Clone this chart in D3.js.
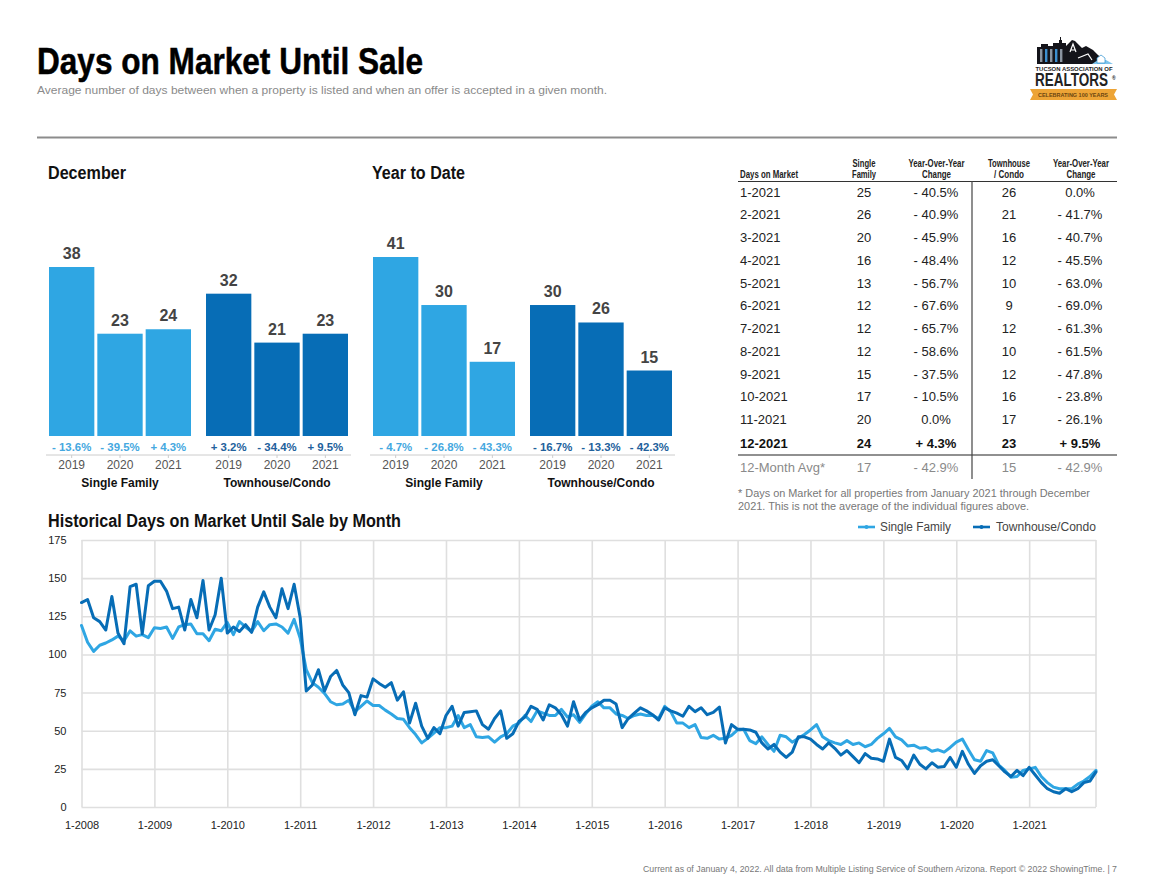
<!DOCTYPE html>
<html>
<head>
<meta charset="utf-8">
<script src="https://cdn.jsdelivr.net/npm/d3@7"></script>
<style>
  html, body { margin: 0; padding: 0; background: #fff; }
  svg { display: block; }
  text { font-family: "Liberation Sans", Arial, sans-serif; }
  .grid line { stroke: #dfdfdf; stroke-width: 1.6; }
  .grid path { display: none; }
  .tick text { fill: #222; font-size: 11px; }
</style>
</head>
<body>
<svg id="page" width="1151" height="886"></svg>
<script>
var groups = ["Single Family", "Townhouse/Condo"];
var bar_years = ["2019", "2020", "2021"];

var dec_sf = [38, 23, 24];
var dec_th = [32, 21, 23];
var dec_sf_change = ["- 13.6%", "- 39.5%", "+ 4.3%"];
var dec_th_change = ["+ 3.2%", "- 34.4%", "+ 9.5%"];

var ytd_sf = [41, 30, 17];
var ytd_th = [30, 26, 15];
var ytd_sf_change = ["- 4.7%", "- 26.8%", "- 43.3%"];
var ytd_th_change = ["- 16.7%", "- 13.3%", "- 42.3%"];

var table_months = ["1-2021", "2-2021", "3-2021", "4-2021", "5-2021", "6-2021", "7-2021", "8-2021", "9-2021", "10-2021", "11-2021", "12-2021", "12-Month Avg*"];
var table_sf = ["25", "26", "20", "16", "13", "12", "12", "12", "15", "17", "20", "24", "17"];
var table_sf_change = ["- 40.5%", "- 40.9%", "- 45.9%", "- 48.4%", "- 56.7%", "- 67.6%", "- 65.7%", "- 58.6%", "- 37.5%", "- 10.5%", "0.0%", "+ 4.3%", "- 42.9%"];
var table_th = ["26", "21", "16", "12", "10", "9", "12", "10", "12", "16", "17", "23", "15"];
var table_th_change = ["0.0%", "- 41.7%", "- 40.7%", "- 45.5%", "- 63.0%", "- 69.0%", "- 61.3%", "- 61.5%", "- 47.8%", "- 23.8%", "- 26.1%", "+ 9.5%", "- 42.9%"];

var year_ticks = ["1-2008", "1-2009", "1-2010", "1-2011", "1-2012", "1-2013", "1-2014", "1-2015", "1-2016", "1-2017", "1-2018", "1-2019", "1-2020", "1-2021"];
var value_ticks = [0, 25, 50, 75, 100, 125, 150, 175];

// Monthly values, Jan 2008 through Dec 2021
var hist_sf = [
    119, 108, 102, 106, 107.5, 109.5, 112, 109, 115.5, 112, 113, 111,
    117.5, 117, 118, 110.5, 118, 119.5, 120, 113.5, 113.5, 109, 116.5, 115.5,
    121, 113, 121.5, 118, 115, 121.5, 115.5, 119.5, 120, 118, 114, 123,
    110.5, 90, 81.5, 78.5, 74.5, 69, 67, 67.5, 70, 62.5, 66, 69.5,
    66.5, 66.5, 63.5, 61, 58, 57.5, 52, 47.5, 42, 45, 48.5, 52,
    52, 53, 60, 52, 54, 46, 45.5, 46, 42.5, 46, 48, 53,
    55, 60, 56, 63, 61.5, 60, 60, 64, 59, 60.5, 55.5, 61,
    66, 69, 65, 65, 61, 60, 58, 60, 61, 60, 60, 58,
    66, 62.5, 55, 55, 52, 54, 45.5, 45, 47, 44.5, 45, 47,
    50.5, 51, 43.5, 41.5, 46, 41, 36.5, 47, 46, 42.5, 45, 47.5,
    50.5, 54, 46, 43.5, 42, 41, 43.5, 41, 42, 39.5, 41, 45,
    48, 51.5, 46, 44, 40, 40.5, 38.5, 39, 36.5, 37.5, 36, 39,
    42.5, 44.5, 37.5, 31, 30, 37, 35.5, 27.5, 24, 19.5, 20, 24,
    25, 26, 20, 16, 13, 12, 12, 12, 15, 17, 20, 24
];
var hist_th = [
    134, 136, 124, 121.5, 116, 138, 114, 107, 144.5, 146, 113.5, 145,
    148, 148, 141.5, 130, 131, 116, 136, 124, 148.5, 116, 126, 150,
    114, 118, 115, 119.5, 114.5, 131, 141, 131, 124, 143, 130, 146,
    124, 76, 80, 90, 76, 85.5, 89.5, 80, 75, 60.5, 73, 72,
    84, 81, 78.5, 81.5, 70, 75.5, 55, 68, 53, 45, 52, 48,
    60, 66, 53, 62, 62.5, 63, 54, 51, 58, 63, 45, 48,
    56, 59, 66, 64, 57, 67, 65, 60.5, 53, 69, 57, 62,
    65, 67, 70, 70, 67.5, 52, 58, 61.5, 65, 63, 60.5, 57,
    65, 63, 61.5, 59.5, 66, 62.5, 65, 60.5, 62, 65.5, 42, 54,
    51, 51, 50.5, 49, 42, 38, 41, 36, 32.5, 36, 46, 46,
    44.5, 41, 38, 42, 38.5, 34, 37, 33, 29, 35, 32, 31.5,
    30, 44.5, 32.5, 30.5, 25, 34, 28, 25, 29, 26, 26.5, 32.5,
    26, 36.5, 28, 22, 27, 30, 31, 27, 23, 20, 24, 20.5,
    26, 21, 16, 12, 10, 9, 12, 10, 12, 16, 17, 23
];

var LIGHT = "#2fa6e3";
var DARK = "#076db6";
var svg = d3.select("#page");

function put(x, y, str, size, opts) {
    opts = opts || {};
    var t = svg.append("text")
	.attr("x", x)
	.attr("y", y)
	.attr("font-size", size)
	.attr("text-anchor", opts.anchor || "start")
	.attr("font-weight", opts.weight || "normal")
	.attr("fill", opts.fill || "#222")
	.text(str);
    if (opts.width) {
	t.attr("textLength", opts.width).attr("lengthAdjust", "spacingAndGlyphs");
    }
    return t;
}

// Header
put(37, 74, "Days on Market Until Sale", 37, {weight: "bold", fill: "#000", width: 386})
    .attr("stroke", "#000").attr("stroke-width", 0.5);
put(37, 94, "Average number of days between when a property is listed and when an offer is accepted in a given month.", 11.5, {fill: "#8a8a8a", width: 570});
svg.append("rect").attr("x", 37).attr("y", 136.5).attr("width", 1080).attr("height", 2).attr("fill", "#8c8c8c");

// Logo
var logo = svg.append("g");
logo.append("path").attr("fill", "#14141a")
    .attr("d", "M1037 64V47h4v-3h7v2h5v-3h6v-3h1v-3h1v3h1v3h4v3l6-6 3 1 7 7 4-2 7 4 5 5 6 5 2 4z");
// building windows
d3.range(5).forEach(function (i) {
    logo.append("rect").attr("x", 1040 + i * 5).attr("y", 49).attr("width", 2.4).attr("height", 13)
	.attr("fill", i % 2 ? "#3d8fcf" : "#8a94a0");
});
logo.append("path").attr("fill", "none").attr("stroke", "#fff").attr("stroke-width", 1.2)
    .attr("d", "M1070 52L1073 44L1076 52M1071 50H1075M1078 58L1088 54L1092 60");
logo.append("path").attr("fill", "#7fc4ec").attr("d", "M1092 64L1098 60H1106L1113 64z");
logo.append("path").attr("fill", "#fff").attr("stroke", "#2a8fd0").attr("stroke-width", 0.7)
    .attr("d", "M1097 63V58L1101 55L1105 58V63z");
put(1074, 71, "TUCSON ASSOCIATION OF", 6, {weight: "bold", anchor: "middle", fill: "#222", width: 77});
put(1071.5, 86, "REALTORS", 18, {weight: "bold", anchor: "middle", fill: "#222", width: 73});
put(1112, 80, "®", 5, {weight: "bold", fill: "#222"});
logo.append("path").attr("fill", "#eda436").attr("d", "M1030 89H1117L1114 94.5L1117 100H1030L1033 94.5z");
put(1073, 97, "CELEBRATING 100 YEARS", 5.5, {weight: "bold", anchor: "middle", fill: "#6b4510", width: 70});

// Bar panels
function draw_group(bar_y, x0, x1, vals, changes, color, change_color, label) {
    var x = d3.scaleBand().domain(bar_years).range([x0, x1]).paddingInner(0.062);
    svg.append("g").selectAll("rect").data(vals).join("rect")
	.attr("x", function (d, i) { return x(bar_years[i]); })
	.attr("y", function (d) { return bar_y(d); })
	.attr("width", x.bandwidth())
	.attr("height", function (d) { return bar_y(0) - bar_y(d); })
	.attr("fill", color);
    vals.forEach(function (d, i) {
	var cx = x(bar_years[i]) + x.bandwidth() / 2;
	put(cx, bar_y(d) - 8, d, 16, {anchor: "middle", weight: "bold", fill: "#444"});
	put(cx, 451, changes[i], 11.4, {anchor: "middle", weight: "bold", fill: change_color});
	svg.append("line").attr("x1", cx).attr("x2", cx).attr("y1", 455).attr("y2", 458).attr("stroke", "#ccc");
	put(cx, 469, bar_years[i], 12, {anchor: "middle", fill: "#555"});
    });
    put((x0 + x1) / 2, 487, label, 12, {anchor: "middle", weight: "bold", fill: "#111"});
}

function draw_panel(x_left, title, title_w, sf, sf_change, th, th_change, top_val, top_y) {
    var bar_y = d3.scaleLinear().domain([0, top_val]).range([436, top_y]);
    put(x_left, 179, title, 18, {weight: "bold", fill: "#111", width: title_w});
    svg.append("line").attr("x1", x_left - 2).attr("x2", x_left + 303)
	.attr("y1", 455).attr("y2", 455).attr("stroke", "#ccc");
    draw_group(bar_y, x_left + 1, x_left + 143, sf, sf_change, LIGHT, "#45a8e0", groups[0]);
    draw_group(bar_y, x_left + 158, x_left + 300, th, th_change, DARK, "#22619c", groups[1]);
}

draw_panel(48, "December", 78, dec_sf, dec_sf_change, dec_th, dec_th_change, 38, 267);
draw_panel(372, "Year to Date", 93, ytd_sf, ytd_sf_change, ytd_th, ytd_th_change, 41, 257);

// Table
function head(x, y, str, w) {
    put(x, y, str, 10, {anchor: "middle", weight: "bold", fill: "#222", width: w});
}
put(740, 178, "Days on Market", 10, {weight: "bold", fill: "#222", width: 58});
head(864, 167, "Single", 23);
head(864, 178, "Family", 24);
head(936.5, 167, "Year-Over-Year", 56);
head(936.5, 178, "Change", 29);
head(1009, 167, "Townhouse", 42);
head(1009, 178, "/ Condo", 30);
head(1081, 167, "Year-Over-Year", 56);
head(1081, 178, "Change", 29);

var row_y = d3.scalePoint().domain(table_months).range([196.5, 471.5]);
var table_cols = [[864, table_sf], [936, table_sf_change], [1009, table_th], [1080, table_th_change]];
table_months.forEach(function (m, i) {
    // the regular rows sit a touch tighter than the two summary rows
    var y = row_y(m) - (i < 11 ? i * 0.14 : 0.5 * (12 - i));
    var o = i == 11 ? {weight: "bold", fill: "#111"} : i == 12 ? {fill: "#8a8a8a"} : {fill: "#222"};
    put(740, y, m, 13, o);
    table_cols.forEach(function (c) {
	put(c[0], y, c[1][i], 13, {anchor: "middle", weight: o.weight, fill: o.fill});
    });
});
svg.append("line").attr("x1", 738).attr("x2", 1117).attr("y1", 181.5).attr("y2", 181.5).attr("stroke", "#333").attr("stroke-width", 1.2);
svg.append("line").attr("x1", 738).attr("x2", 1117).attr("y1", 455).attr("y2", 455).attr("stroke", "#222").attr("stroke-width", 1.2);
svg.append("line").attr("x1", 972).attr("x2", 972).attr("y1", 181).attr("y2", 479).attr("stroke", "#444").attr("stroke-width", 1.2);
put(738, 497, "* Days on Market for all properties from January 2021 through December", 10.5, {fill: "#777", width: 352});
put(738, 510, "2021. This is not the average of the individual figures above.", 10.5, {fill: "#777", width: 291});

// Historical chart
put(48, 527, "Historical Days on Market Until Sale by Month", 18, {weight: "bold", fill: "#111", width: 353});

var x = d3.scaleLinear().domain([0, hist_sf.length - 1]).range([81.5, 1096]);
var y = d3.scaleLinear().domain([0, 175]).range([807, 540]);

var x_axis = d3.axisBottom(x)
    .tickValues(year_ticks.map(function (d, i) { return i * 12; }))
    .tickFormat(function (d) { return year_ticks[d / 12]; })
    .tickSize(-267)
    .tickPadding(14);
var y_axis = d3.axisLeft(y)
    .tickValues(value_ticks)
    .tickSize(-(1096 - 81.5))
    .tickPadding(15);

svg.append("g").attr("class", "grid").attr("transform", "translate(0,807)").call(x_axis);
svg.append("g").attr("class", "grid").attr("transform", "translate(81.5,0)").call(y_axis);
svg.append("line").attr("x1", 1096).attr("x2", 1096).attr("y1", 540).attr("y2", 807).attr("stroke", "#dfdfdf").attr("stroke-width", 1.6);

var line = d3.line()
    .x(function (d, i) { return x(i); })
    .y(function (d) { return y(d); });

[[hist_sf, LIGHT], [hist_th, DARK]].forEach(function (s) {
    svg.append("path").datum(s[0])
	.attr("d", line)
	.attr("fill", "none")
	.attr("stroke", s[1])
	.attr("stroke-width", 3)
	.attr("stroke-linejoin", "round")
	.attr("stroke-linecap", "round");
});

// Legend
[[858, 880, 71, LIGHT, groups[0]], [973, 996, 100, DARK, groups[1]]].forEach(function (l) {
    svg.append("line").attr("x1", l[0]).attr("x2", l[0] + 17).attr("y1", 527).attr("y2", 527).attr("stroke", l[3]).attr("stroke-width", 2.6);
    svg.append("circle").attr("cx", l[0] + 8.5).attr("cy", 527).attr("r", 2).attr("fill", l[3]);
    put(l[1], 531, l[4], 12.5, {fill: "#444", width: l[2]});
});

// Footer
put(1117, 872, "Current as of January 4, 2022. All data from Multiple Listing Service of Southern Arizona. Report © 2022 ShowingTime.  |  7", 9, {anchor: "end", fill: "#777", width: 474});
</script>
</body>
</html>
